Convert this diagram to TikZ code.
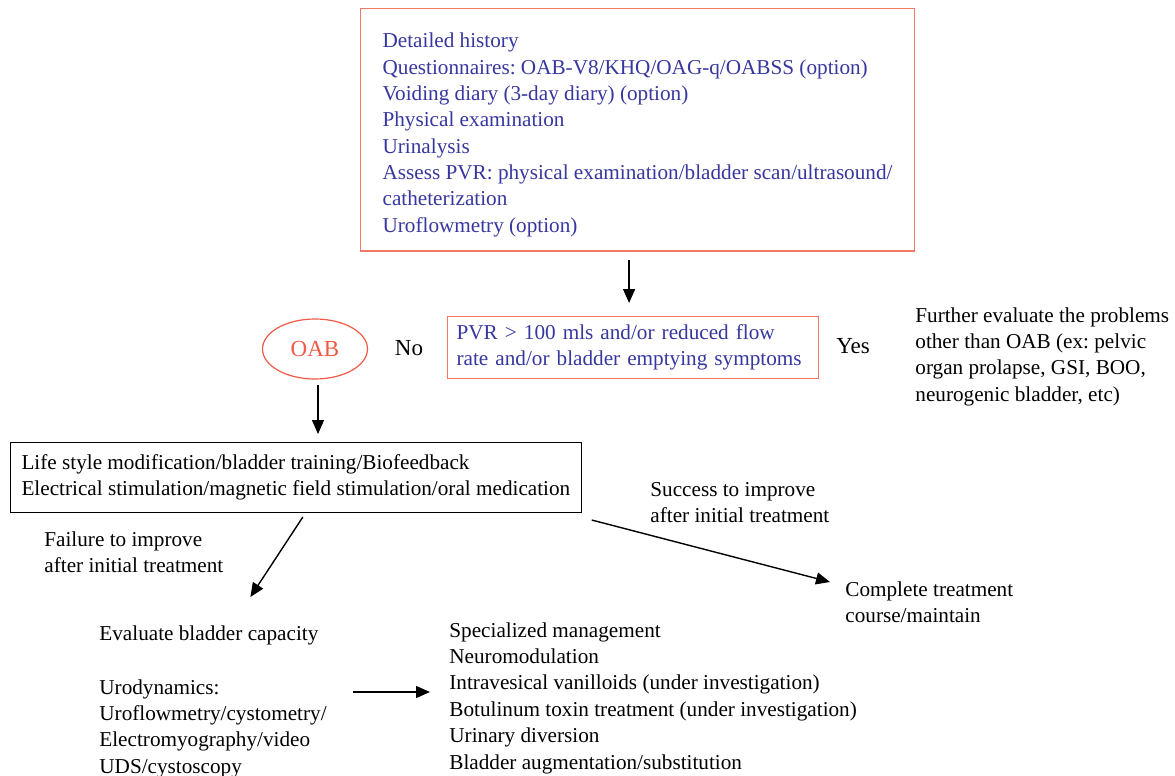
\documentclass[tikz,border=0pt]{standalone}
\usepackage{fontspec}
\setmainfont{Liberation Serif}
\usepackage{tikz}
\usetikzlibrary{shapes.geometric,arrows.meta}

\definecolor{txtblue}{RGB}{55,55,160}
\definecolor{boxred}{RGB}{240,120,100}
\definecolor{oabred}{RGB}{240,90,70}

\frenchspacing

\begin{document}
\begin{tikzpicture}[
			x=0.5pt, y=-0.5pt,
			txt/.style={inner sep=0pt, align=left, font=\fontsize{10.6}{13.2}\selectfont},
			bigtxt/.style={inner sep=0pt, font=\fontsize{11.5}{13.2}\selectfont},
			redbox/.style={txt, draw=boxred, line width=0.6pt, text=txtblue},
			blackbox/.style={txt, draw, line width=0.5pt},
			oabnode/.style={ellipse, draw=oabred, line width=0.6pt, text=oabred, minimum width=52.5pt, minimum height=30pt, inner sep=0pt, font=\fontsize{11.5}{13.2}\selectfont},
			arr/.style={-{Triangle[length=7pt,width=6pt]}, line width=0.7pt}
			]
			
			\fill[white] (0,0) rectangle (1175,776);
			\useasboundingbox (0,0) rectangle (1175,776);
			
			% Initial assessment
			\node[redbox, anchor=north west, inner xsep=11pt, inner ysep=7pt, minimum height=120pt] (hist) at (360,8)
				{\rule{0pt}{12.5pt}Detailed history\\
				Questionnaires: OAB-V8/KHQ/OAG-q/OABSS (option)\\
				Voiding diary (3-day diary) (option)\\
				Physical examination\\
				Urinalysis\\
				Assess PVR: physical examination/bladder scan/ultrasound/\\
				catheterization\\
				Uroflowmetry (option)};
			
			% Decision
			\node[redbox, anchor=north west, text width=176.5pt, inner xsep=4.5pt, inner ysep=3pt, minimum height=31pt] (pvr) at (447,316)
				{PVR > 100 mls and/or reduced flow\\
				rate and/or bladder emptying symptoms};
			\node[oabnode] (oab) at (315,349) {OAB};
			\node[bigtxt] (no) at (409,348) {No};
			\node[bigtxt] (yes) at (853,346) {Yes};
			\node[txt, anchor=north west] (further) at (915,307)
				{Further evaluate the problems\\
				other than OAB (ex: pelvic\\
				organ prolapse, GSI, BOO,\\
				neurogenic bladder, etc)};
			
			% Initial treatment
			\node[blackbox, anchor=north west, inner xsep=5.5pt, inner ysep=3pt, minimum height=35pt] (life) at (10,442)
				{Life style modification/bladder training/Biofeedback\\
				Electrical stimulation/magnetic field stimulation/oral medication};
			\node[txt, anchor=north west] (failure) at (44,531)
				{Failure to improve\\
				after initial treatment};
			\node[txt, anchor=north west] (success) at (650,482)
				{Success to improve\\
				after initial treatment};
			\node[txt, anchor=north west] (complete) at (845,581)
				{Complete treatment\\
				course/maintain};
			
			% Further management
			\node[txt, anchor=north west] (eval) at (99,625) {Evaluate bladder capacity};
			\node[txt, anchor=north west] (uro) at (99,679)
				{Urodynamics:\\
				Uroflowmetry/cystometry/\\
				Electromyography/video\\
				UDS/cystoscopy};
			\node[txt, anchor=north west] (spec) at (449,622)
				{Specialized management\\
				Neuromodulation\\
				Intravesical vanilloids (under investigation)\\
				Botulinum toxin treatment (under investigation)\\
				Urinary diversion\\
				Bladder augmentation/substitution};
			
			% Arrows
			\draw[arr, shorten <=4pt, shorten >=6.5pt] ([xshift=-2pt]pvr.north |- hist.south) -- ([xshift=-2pt]pvr.north);
			\draw[arr, shorten <=2.5pt, shorten >=4pt] ([xshift=1.5pt]oab.south) -- ([xshift=1.5pt]oab.south |- life.north);
			\draw[arr] ([xshift=3.5pt,yshift=-2pt]life.south) -- ([xshift=20.75pt,yshift=14pt]eval.north);
			\draw[arr] ([xshift=5pt,yshift=-3.5pt]life.south east) -- ([xshift=-7.5pt,yshift=-0.5pt]complete.north west);
			\draw[arr] ([xshift=13pt,yshift=-6.5pt]uro.north east) -- ([xshift=-9.5pt,yshift=-35pt]spec.north west);
			
		\end{tikzpicture}
\end{document}
